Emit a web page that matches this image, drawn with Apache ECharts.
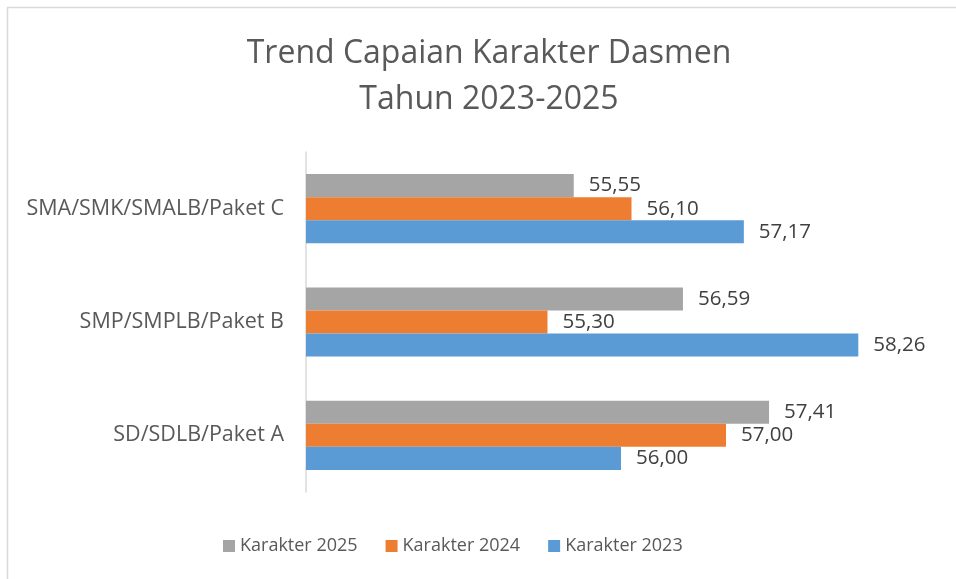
<!DOCTYPE html>
<html>
<head>
<meta charset="utf-8">
<script src="https://cdn.jsdelivr.net/npm/echarts@6/dist/echarts.min.js"></script>
<style>
  html, body { margin: 0; padding: 0; background: #fff; }
  #chart { width: 956px; height: 579px; }
</style>
</head>
<body>
<div id="chart"></div>
<script>
// data (categories listed bottom to top)
const categories = ['SD/SDLB/Paket A', 'SMP/SMPLB/Paket B', 'SMA/SMK/SMALB/Paket C']
const karakter2023 = [56.00, 58.26, 57.17]
const karakter2024 = [57.00, 55.30, 56.10]
const karakter2025 = [57.41, 56.59, 55.55]

const font = '"Open Sans", "Noto Sans", sans-serif'

function barSeries(name, data, color) {
    return {
        name: name,
        type: 'bar',
        data: data,
        barGap: '0%',
        barCategoryGap: '39%',
        itemStyle: { color: color },
        label: {
            show: true,
            position: 'right',
            distance: 15,
            color: '#404040',
            fontSize: 20.5,
            fontFamily: font,
            formatter: p => p.value.toFixed(2).replace('.', ',')
        }
    }
}

const chart = echarts.init(document.getElementById('chart'))
chart.setOption({
    animation: false,
    title: {
        text: 'Trend Capaian Karakter Dasmen\nTahun 2023-2025',
        left: 484,
        textAlign: 'center',
        top: 26,
        textStyle: {
            color: '#595959',
            fontSize: 32,
            fontWeight: 'normal',
            fontFamily: font,
            lineHeight: 46
        }
    },
    graphic: [{
        type: 'polyline',
        shape: { points: [[7.5, 600], [7.5, 7.5], [960, 7.5]] },
        style: { stroke: '#d9d9d9', lineWidth: 1.5, fill: null }
    }],
    legend: {
        data: ['Karakter 2025', 'Karakter 2024', 'Karakter 2023'],
        bottom: 19,
        left: 218,
        itemWidth: 12,
        itemHeight: 12,
        itemGap: 28,
        icon: 'rect',
        textStyle: { color: '#595959', fontSize: 18, fontFamily: font }
    },
    grid: { left: 306, right: 20, top: 152, bottom: 87, containLabel: false },
    xAxis: {
        type: 'value',
        min: 53,
        max: 59,
        show: false
    },
    yAxis: {
        type: 'category',
        data: categories,
        axisLine: { show: true, lineStyle: { color: '#d9d9d9', width: 1.5 } },
        axisTick: { show: false },
        axisLabel: {
            color: '#595959',
            fontSize: 21.5,
            fontFamily: font,
            margin: 22
        }
    },
    // first series is drawn at the top of each group
    series: [
        barSeries('Karakter 2025', karakter2025, '#a5a5a5'),
        barSeries('Karakter 2024', karakter2024, '#ed7d31'),
        barSeries('Karakter 2023', karakter2023, '#5b9bd5')
    ]
})
</script>
</body>
</html>
